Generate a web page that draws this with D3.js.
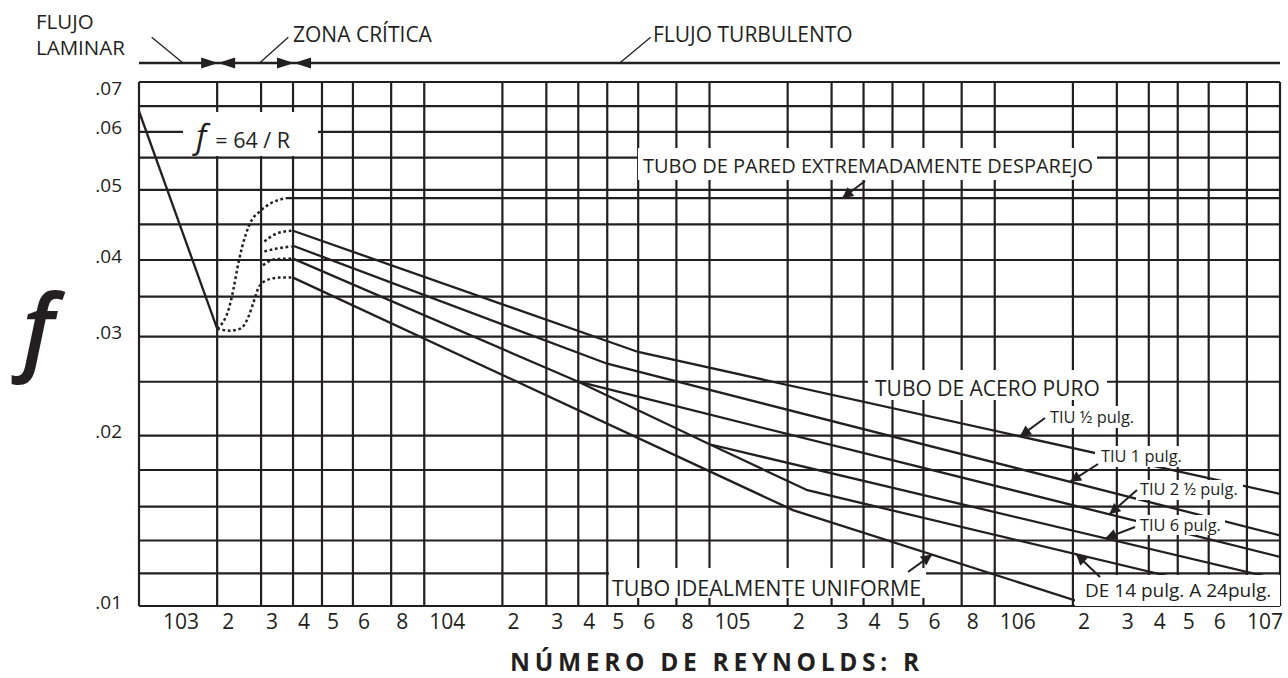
<!DOCTYPE html>
<html>
<head>
<meta charset="utf-8">
<script src="https://cdn.jsdelivr.net/npm/d3@7"></script>
<style>
  body { margin: 0; background: #fff; }
  text { font-family: "Open Sans", sans-serif; fill: #231f20; }
</style>
</head>
<body>
<svg id="chart" width="1288" height="678"></svg>
<script>
// ruling of the chart paper (values)
const xTicks = [1e3, 2e3, 3e3, 4e3, 5e3, 6e3, 8e3,
                1e4, 2e4, 3e4, 4e4, 5e4, 6e4, 8e4,
                1e5, 2e5, 3e5, 4e5, 5e5, 6e5, 8e5,
                1e6, 2e6, 3e6, 4e6, 5e6, 6e6, 8e6, 1e7];
const xTickLabels = ["103", "2", "3", "4", "5", "6", "8",
                     "104", "2", "3", "4", "5", "6", "8",
                     "105", "2", "3", "4", "5", "6", "8",
                     "106", "2", "3", "4", "5", "6", "", "107"];
const fTicks = [.07, .065, .06, .055, .05, .045, .04, .035, .03, .025, .02, .018, .016, .014, .012, .01];
const fTickLabels = [".07", "", ".06", "", ".05", "", ".04", "", ".03", "", ".02", "", "", "", "", ".01"];

// curves, [R, f]
const laminar = [[1000, .064], [2000, .031]];
const roughWall = [[3750, .0488], [1e7, .0488]];
const criticalTop = [[2000, .031], [2240, .03375], [2320, .0359], [2440, .0398], [2600, .0435],
                     [2750, .0456], [2950, .0468], [3290, .0481], [3750, .0488]];
const criticalBottom = [[2000, .031], [2240, .03075], [2480, .031], [2670, .0325], [2790, .0342],
                        [2950, .0364], [3240, .0374], [3550, .0376], [3950, .0376]];
const criticalHalf = [[3090, .0426], [3450, .0437], [3950, .0441]];
const critical1 = [[3090, .0412], [3450, .0416], [3950, .0419]];
const critical2half = [[3050, .0393], [3400, .0401], [3950, .0402]];
const tiuHalf = [[4000, .0441], [6e4, .0283], [1e7, .0167]];
const tiu1 = [[4000, .042], [5e4, .027], [1e7, .0143]];
const tiu2half = [[4000, .0402], [4e4, .025], [1e7, .013]];
const tiu6 = [[4e4, .025], [1e5, .0195], [1e7, .0116]];
const de14to24 = [[1e5, .0195], [2.4e5, .0169], [1e7, .0102]];
const idealSmooth = [[4000, .0376], [2.1e5, .0158], [2.4e6, .01]];

// layout
const plot = {left: 139, right: 1280, top: 82, bottom: 606};
const ink = "#231f20";
const decadeW = (plot.right - plot.left) / 4;
const mantissas = [1, 2, 3, 4, 5, 6, 8];
const mantissaPos = [0, .274, .428, .54, .6415, .75, .884];   // printed spacing inside a decade
const fRuling = [0, .046, .095, .1445, .206, .2716, .3397, .4097, .486, .572, .675, .7405, .8105, .875, .9376, 1];

function paperX(v) {
  const d = Math.floor(Math.log10(v) + 1e-9);
  const m = Math.round(v / Math.pow(10, d));
  return plot.left + (d - 3 + mantissaPos[mantissas.indexOf(m)]) * decadeW;
}
const xs = d3.scaleLinear().domain(xTicks.map(Math.log10)).range(xTicks.map(paperX));
const x = v => xs(Math.log10(v));
const y = d3.scaleLinear().domain(fTicks).range(fRuling.map(r => plot.top + r * (plot.bottom - plot.top)));

const svg = d3.select("#chart");

svg.append("defs").append("clipPath").attr("id", "clip")
  .append("rect").attr("x", plot.left).attr("y", plot.top)
  .attr("width", plot.right - plot.left).attr("height", plot.bottom - plot.top);
svg.select("defs").append("marker")
  .attr("id", "head").attr("viewBox", "0 0 10 10").attr("refX", 10).attr("refY", 5)
  .attr("markerWidth", 16).attr("markerHeight", 11).attr("markerUnits", "userSpaceOnUse")
  .attr("orient", "auto")
  .append("path").attr("d", "M0,0L10,5L0,10Z").attr("fill", ink);

// grid
const grid = svg.append("g").attr("stroke", ink).attr("stroke-width", 2.2);
grid.selectAll(".v").data(xTicks).join("line")
  .attr("x1", d => x(d)).attr("x2", d => x(d))
  .attr("y1", plot.top).attr("y2", plot.bottom);
grid.selectAll(".h").data(fTicks).join("line")
  .attr("x1", plot.left).attr("x2", plot.right)
  .attr("y1", d => y(d)).attr("y2", d => y(d));

// axis labels
const last = xTicks.length - 1;
svg.append("g").selectAll("text").data(xTicks).join("text")
  .attr("x", (d, i) => i === last ? x(d) + 3 : i === 0 ? x(d) + 24 : x(d) + 5)
  .attr("y", 629)
  .attr("text-anchor", (d, i) => i === last ? "end" : "start")
  .attr("font-size", 21)
  .text((d, i) => xTickLabels[i]);

svg.append("g").selectAll("text").data(fTicks).join("text")
  .attr("x", 122)
  .attr("y", d => Math.max(y(d) + 2.5, plot.top + 13))
  .attr("text-anchor", "end")
  .attr("font-size", 19)
  .text((d, i) => fTickLabels[i]);

svg.append("text").attr("x", 717).attr("y", 671).attr("text-anchor", "middle")
  .attr("font-size", 24.5).attr("font-weight", 700).attr("letter-spacing", 4.7)
  .text("NÚMERO DE REYNOLDS: R");

svg.append("text").attr("x", 22).attr("y", 362)
  .attr("font-size", 94).attr("font-weight", 600).attr("font-style", "italic").text("f");

// curves
const line = d3.line().x(d => x(d[0])).y(d => y(d[1]));
const curve = d3.line().x(d => x(d[0])).y(d => y(d[1])).curve(d3.curveMonotoneX);
const curves = svg.append("g").attr("clip-path", "url(#clip)")
  .attr("fill", "none").attr("stroke", ink).attr("stroke-width", 2.3);

[laminar, roughWall, tiuHalf, tiu1, tiu2half, tiu6, de14to24, idealSmooth].forEach(s => {
  curves.append("path").attr("d", line(s));
});
[criticalTop, criticalBottom, criticalHalf, critical1, critical2half].forEach(s => {
  curves.append("path").attr("d", curve(s)).attr("stroke-dasharray", "2.7 2.7").attr("stroke-width", 2.5);
});

// position on a drawn series, in pixels
function onLine(s, R) {
  const px = x(R);
  for (let i = 1; i < s.length; i++) {
    const a = [x(s[i - 1][0]), y(s[i - 1][1])], b = [x(s[i][0]), y(s[i][1])];
    if (px >= a[0] && px <= b[0]) return [px, a[1] + (b[1] - a[1]) * (px - a[0]) / (b[0] - a[0])];
  }
  return [px, y(s[s.length - 1][1])];
}

// labels with white boxes
const notes = svg.append("g");
function boxed(t, tx, ty, size, box) {
  notes.append("rect").attr("x", box[0]).attr("y", box[1])
    .attr("width", box[2] - box[0]).attr("height", box[3] - box[1]).attr("fill", "#fff");
  notes.append("text").attr("x", tx).attr("y", ty).attr("font-size", size).text(t);
}
boxed("TUBO DE PARED EXTREMADAMENTE DESPAREJO", 643, 173, 20, [638, 148, 1097, 180]);
boxed("TUBO DE ACERO PURO", 875, 396, 21, [868, 370, 1107, 400]);
boxed("TIU ½ pulg.", 1050, 423, 16.4, [1046, 406, 1140, 428]);
boxed("TIU 1 pulg.", 1101, 462, 16.4, [1095, 446, 1185, 467]);
boxed("TIU 2 ½ pulg.", 1140, 495, 16.4, [1136, 480, 1243, 500]);
boxed("TIU 6 pulg.", 1140, 531, 16.4, [1136, 515, 1225, 535]);
boxed("DE 14 pulg. A 24pulg.", 1085, 597, 19, [1075, 575, 1280, 606]);
boxed("TUBO IDEALMENTE UNIFORME", 612, 596, 21.5, [609, 568, 926, 598]);

// f = 64 / R
notes.append("rect").attr("x", 183).attr("y", 112).attr("width", 135).attr("height", 44).attr("fill", "#fff");
const eq = notes.append("text").attr("x", 196).attr("y", 148);
eq.append("tspan").attr("font-size", 33).attr("font-style", "italic").text("f");
eq.append("tspan").attr("font-size", 21.5).attr("dx", 9).text("= 64 / R");

// arrows to the curves
const arrows = [
  [roughWall, 3.3e5, [865, 181]],
  [tiuHalf, 1.25e6, [1045, 418]],
  [tiu1, 1.95e6, [1098, 464]],
  [tiu2half, 2.8e6, [1137, 490]],
  [tiu6, 2.7e6, [1135, 527]],
  [de14to24, 2.06e6, [1100, 577]],
  [idealSmooth, 6.4e5, [908, 572]]
];
arrows.forEach(([s, R, tail]) => {
  const tip = onLine(s, R);
  notes.append("line").attr("x1", tail[0]).attr("y1", tail[1]).attr("x2", tip[0]).attr("y2", tip[1])
    .attr("stroke", ink).attr("stroke-width", 2).attr("marker-end", "url(#head)");
});

// flow regimes along the top
const header = svg.append("g");
const headerY = 63;
header.append("line").attr("x1", plot.left).attr("x2", plot.right).attr("y1", headerY).attr("y2", headerY)
  .attr("stroke", ink).attr("stroke-width", 2.4);
[2000, 4000].forEach(R => {
  const cx = x(R) + 1;
  header.append("path").attr("fill", ink)
    .attr("d", `M${cx - 17},${headerY - 5.5}L${cx},${headerY}L${cx - 17},${headerY + 5.5}Z` +
               `M${cx + 17},${headerY - 5.5}L${cx},${headerY}L${cx + 17},${headerY + 5.5}Z`);
});
[[151.7, 37.3, 182.7, 62.7], [288.3, 37.3, 259.3, 63.3], [650.7, 37.3, 620, 62.7]].forEach(l => {
  header.append("line").attr("x1", l[0]).attr("y1", l[1]).attr("x2", l[2]).attr("y2", l[3])
    .attr("stroke", ink).attr("stroke-width", 1.3);
});
header.append("text").attr("x", 36).attr("y", 29).attr("font-size", 20.5).text("FLUJO");
header.append("text").attr("x", 36).attr("y", 55).attr("font-size", 20.5).text("LAMINAR");
header.append("text").attr("x", 293).attr("y", 42).attr("font-size", 21).text("ZONA CRÍTICA");
header.append("text").attr("x", 653).attr("y", 42).attr("font-size", 21).text("FLUJO TURBULENTO");
</script>
</body>
</html>
